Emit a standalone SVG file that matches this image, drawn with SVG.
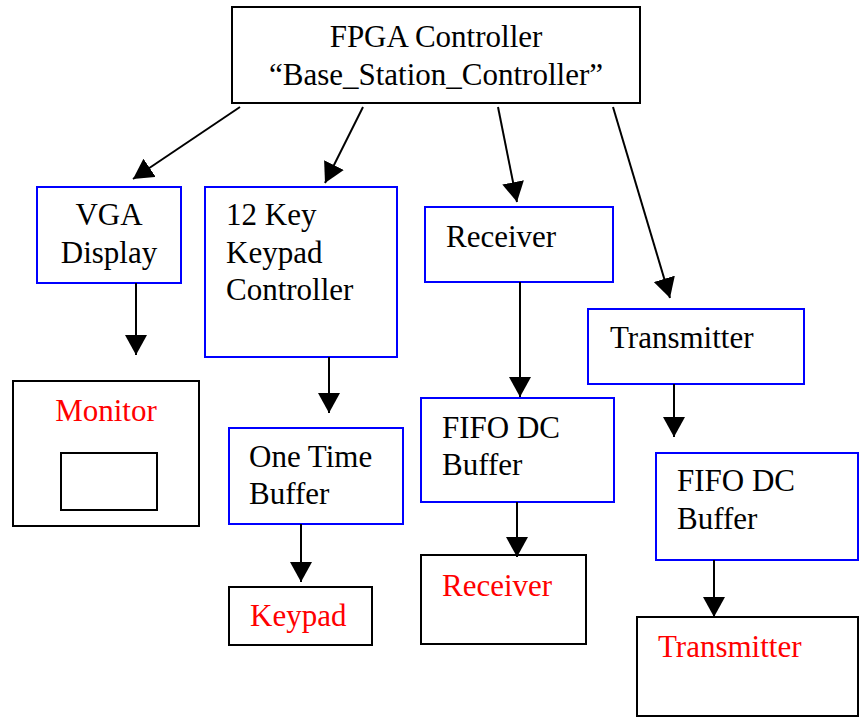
<svg xmlns="http://www.w3.org/2000/svg" width="860" height="717" viewBox="0 0 860 717">
  <style>
    .box { fill: #ffffff; stroke: #000000; stroke-width: 2; }
    .blue { fill: #ffffff; stroke: #0000ff; stroke-width: 2; }
    .lbl { font-family: "Liberation Serif", "Times New Roman", serif; font-size: 31px; fill: #000000; }
    .red { fill: #ff0000; }
    .mid { text-anchor: middle; }
    .wire { stroke: #000000; stroke-width: 2; fill: none; marker-end: url(#head); }
  </style>
  <defs>
    <marker id="head" markerUnits="userSpaceOnUse" markerWidth="22" markerHeight="22" refX="20" refY="11" orient="auto">
      <path d="M0,0 L20,11 L0,22 z" fill="#000000"/>
    </marker>
  </defs>
  <rect width="860" height="717" fill="#ffffff"/>

  <g id="fpga-controller">
    <rect class="box" x="232" y="7" width="408" height="96"/>
    <text class="lbl mid" x="436" y="47">FPGA Controller</text>
    <text class="lbl mid" x="436" y="85">“Base_Station_Controller”</text>
  </g>

  <g id="vga-display">
    <rect class="blue" x="37" y="187" width="144" height="96"/>
    <text class="lbl mid" x="109" y="225">VGA</text>
    <text class="lbl mid" x="109" y="263">Display</text>
  </g>

  <g id="keypad-controller">
    <rect class="blue" x="205" y="187" width="192" height="170"/>
    <text class="lbl" x="226" y="225">12 Key</text>
    <text class="lbl" x="226" y="263">Keypad</text>
    <text class="lbl" x="226" y="300">Controller</text>
  </g>

  <g id="receiver">
    <rect class="blue" x="425" y="207" width="188" height="75"/>
    <text class="lbl" x="446" y="247">Receiver</text>
  </g>

  <g id="transmitter">
    <rect class="blue" x="588" y="309" width="216" height="75"/>
    <text class="lbl" x="610" y="348">Transmitter</text>
  </g>

  <g id="monitor">
    <rect class="box" x="13" y="381" width="186" height="145"/>
    <rect class="box" x="61" y="453" width="96" height="57"/>
    <text class="lbl red mid" x="106" y="421">Monitor</text>
  </g>

  <g id="one-time-buffer">
    <rect class="blue" x="229" y="428" width="174" height="96"/>
    <text class="lbl" x="249" y="467">One Time</text>
    <text class="lbl" x="249" y="504">Buffer</text>
  </g>

  <g id="keypad">
    <rect class="box" x="229" y="587" width="143" height="58"/>
    <text class="lbl red" x="250" y="626">Keypad</text>
  </g>

  <g id="rx-fifo">
    <rect class="blue" x="421" y="398" width="193" height="104"/>
    <text class="lbl" x="442" y="438">FIFO DC</text>
    <text class="lbl" x="442" y="475">Buffer</text>
  </g>

  <g id="rx-device">
    <rect class="box" x="421" y="555" width="165" height="89"/>
    <text class="lbl red" x="442" y="596">Receiver</text>
  </g>

  <g id="tx-fifo">
    <rect class="blue" x="656" y="453" width="202" height="107"/>
    <text class="lbl" x="677" y="491">FIFO DC</text>
    <text class="lbl" x="677" y="529">Buffer</text>
  </g>

  <g id="tx-device">
    <rect class="box" x="637" y="617" width="221" height="99"/>
    <text class="lbl red" x="658" y="657">Transmitter</text>
  </g>

  <g id="connectors">
    <line class="wire" x1="240" y1="107" x2="133" y2="179"/>
    <line class="wire" x1="363" y1="107" x2="325" y2="183"/>
    <line class="wire" x1="498" y1="107" x2="517" y2="202"/>
    <line class="wire" x1="613" y1="107" x2="670" y2="298"/>
    <line class="wire" x1="136" y1="283" x2="136" y2="355"/>
    <line class="wire" x1="329" y1="357" x2="329" y2="413"/>
    <line class="wire" x1="301" y1="524" x2="301" y2="582"/>
    <line class="wire" x1="520" y1="282" x2="520" y2="397"/>
    <line class="wire" x1="517" y1="502" x2="517" y2="557"/>
    <line class="wire" x1="674" y1="384" x2="674" y2="437"/>
    <line class="wire" x1="714" y1="560" x2="714" y2="617"/>
  </g>
</svg>
